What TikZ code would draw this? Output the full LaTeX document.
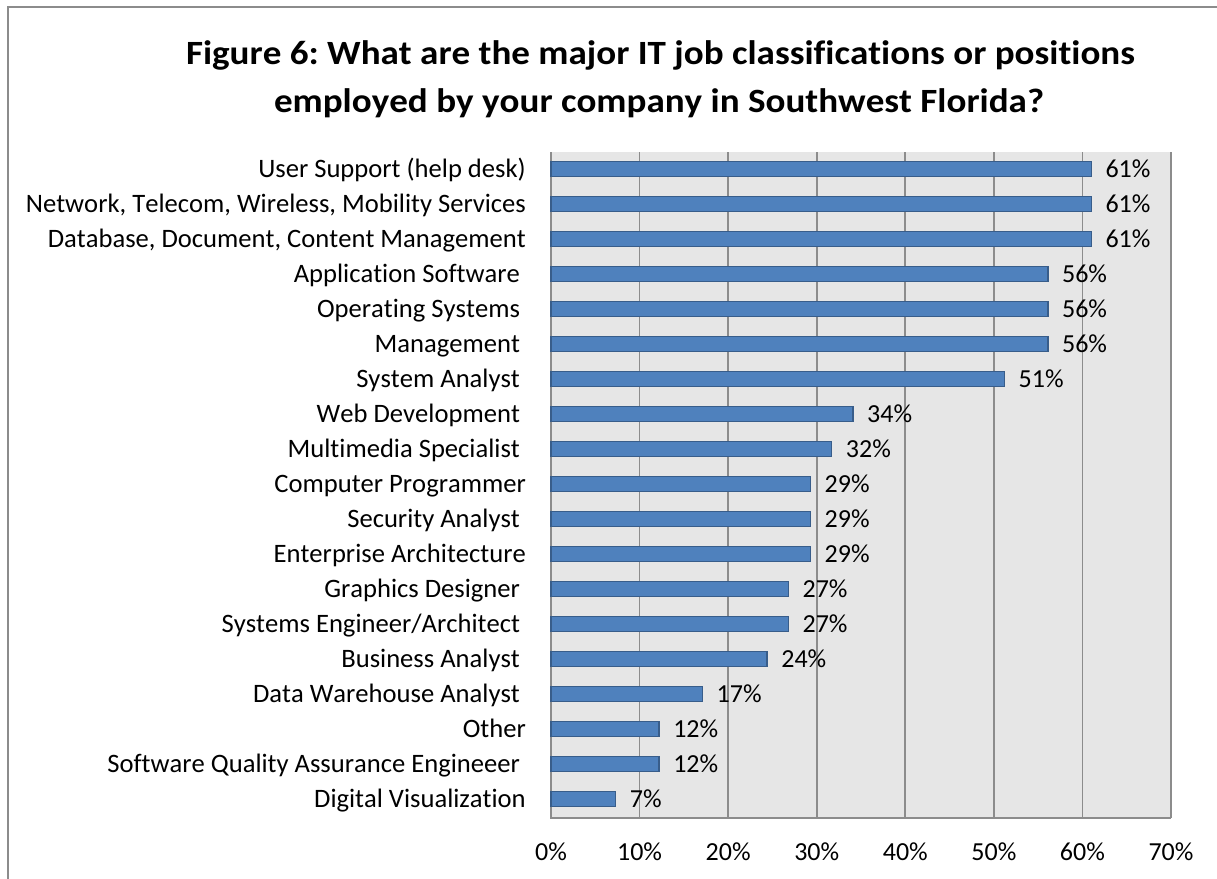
\documentclass[tikz,border=0pt]{standalone}
\usepackage{fontspec}
\setmainfont{Carlito}[Kerning=Off,Ligatures=NoCommon]
\newfontfamily\titlefont{Carlito}[Kerning=Off,Ligatures=NoCommon,FakeStretch=1.09]
\definecolor{barfill}{HTML}{4F81BD}
\definecolor{barline}{HTML}{385D8A}
\definecolor{plotbg}{HTML}{E6E6E6}
\definecolor{gridc}{HTML}{8C8C8C}
\frenchspacing
\begin{document}
\begin{tikzpicture}[x=1pt,y=-1pt,
  frame/.style={draw=gridc,line width=2pt},
  gridline/.style={draw=gridc,line width=1.6pt},
  barbox/.style={fill=barfill,draw=barline,line width=1.4pt},
  catlabel/.style={anchor=base east,inner sep=0pt,font=\fontsize{26.6}{30}\selectfont},
  vallabel/.style={anchor=base west,inner sep=0pt,font=\fontsize{26}{30}\selectfont},
  ticklabel/.style={anchor=base,inner sep=0pt,font=\fontsize{26}{30}\selectfont},
  titlebox/.style={anchor=base,inner sep=0pt,font=\titlefont\fontsize{34}{40}\selectfont\bfseries}]
\useasboundingbox (0,0) rectangle (1217,878);
\fill[white] (0,0) rectangle (1217,878);
% chart frame (top and left edges visible)
\draw[frame] (8,890) -- (8,7) -- (1230,7);
% title
\node[titlebox] (title1) at (660.5,64.5) {Figure 6: What are the major IT job classifications or positions};
\node[titlebox] (title2) at (659,112.5) {employed by your company in Southwest Florida?};
% plot area
\fill[plotbg] (551,152) rectangle (1171,818);
\foreach \i in {1,...,7} {
  \draw[gridline] ({551+\i*88.571},152) -- ({551+\i*88.571},818);
}
\draw[gridline] (551,152) -- (551,818) -- (1171,818);
% tick labels
\foreach \i in {0,...,7} {
  \pgfmathtruncatemacro{\pc}{\i*10}
  \node[ticklabel] (tick\i) at ({551+\i*88.571},860) {\pc\%};
}
% bars
\foreach \lab/\val [count=\k from 0] in {
  {User Support (help desk)}/61.0,
  {Network, Telecom, Wireless, Mobility Services}/61.0,
  {Database, Document, Content Management}/61.0,
  {Application Software\kern5.9pt}/56.1,
  {Operating Systems\kern5.9pt}/56.1,
  {Management\kern5.9pt}/56.1,
  {System Analyst\kern5.9pt}/51.2,
  {Web Development\kern5.9pt}/34.1,
  {Multimedia Specialist\kern5.9pt}/31.7,
  {Computer Programmer}/29.3,
  {Security Analyst\kern5.9pt}/29.3,
  {Enterprise Architecture}/29.3,
  {Graphics Designer\kern5.9pt}/26.8,
  {Systems Engineer/Architect\kern5.9pt}/26.8,
  {Business Analyst\kern5.9pt}/24.4,
  {Data Warehouse Analyst\kern5.9pt}/17.1,
  {Other}/12.2,
  {Software Quality Assurance Engineeer\kern5.9pt}/12.2,
  {Digital Visualization}/7.3} {
  \pgfmathsetmacro{\yc}{169+35*\k}
  \pgfmathsetmacro{\xe}{551+\val*8.8571}
  \pgfmathtruncatemacro{\rv}{round(\val)}
  \node[catlabel] (cat\k) at (526,\yc+8) {\lab};
  \draw[barbox] (551,\yc-7.5) rectangle (\xe,\yc+7.5);
  \coordinate (barend\k) at (\xe,\yc);
  \node[vallabel] (val\k) at (\xe+14,\yc+8) {\rv\%};
}
\end{tikzpicture}
\end{document}
